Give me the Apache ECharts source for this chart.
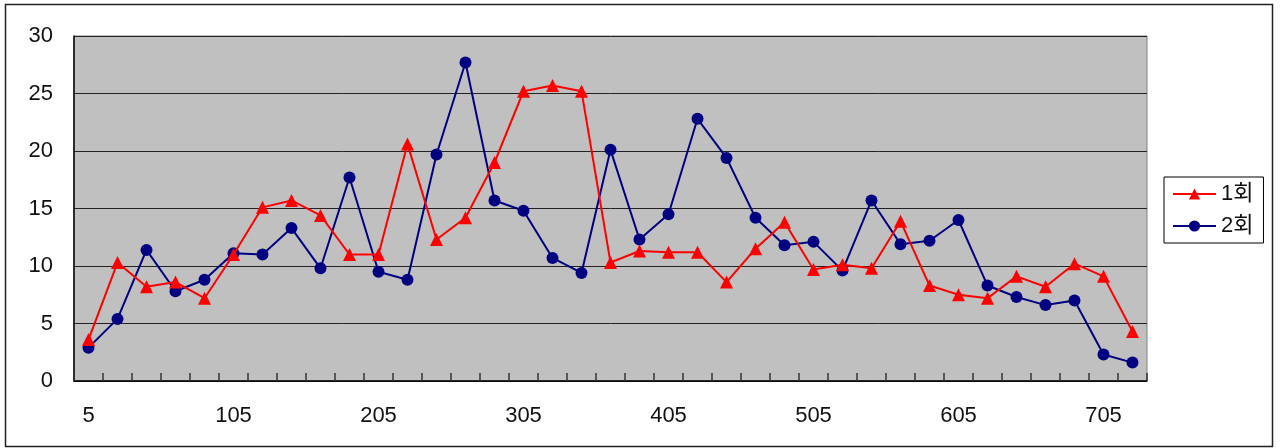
<!DOCTYPE html>
<html>
<head>
<meta charset="utf-8">
<script src="https://cdn.jsdelivr.net/npm/echarts@6/dist/echarts.min.js"></script>
<style>
  html, body { margin: 0; padding: 0; background: #fff; }
  #chart { width: 1283px; height: 448px; }
</style>
</head>
<body>
<div id="chart"></div>
<script>
// Position categories (5, 25, 45, ... 725)
const categories = ['5','25','45','65','85','105','125','145','165','185','205','225','245','265','285','305','325','345','365','385','405','425','445','465','485','505','525','545','565','585','605','625','645','665','685','705','725'];

// 1회 measurements
const round1 = [3.6, 10.3, 8.2, 8.6, 7.2, 11.0, 15.1, 15.7, 14.4, 11.0, 11.0, 20.6, 12.3, 14.2, 19.0, 25.2, 25.7, 25.2, 10.3, 11.3, 11.2, 11.2, 8.6, 11.5, 13.8, 9.7, 10.1, 9.8, 13.9, 8.3, 7.5, 7.2, 9.1, 8.2, 10.2, 9.1, 4.3];

// 2회 measurements
const round2 = [2.9, 5.4, 11.4, 7.8, 8.8, 11.1, 11.0, 13.3, 9.8, 17.7, 9.5, 8.8, 19.7, 27.7, 15.7, 14.8, 10.7, 9.4, 20.1, 12.3, 14.5, 22.8, 19.4, 14.2, 11.8, 12.1, 9.6, 15.7, 11.9, 12.2, 14.0, 8.3, 7.3, 6.6, 7.0, 2.3, 1.6];

const seriesNames = ['1회', '2회'];

const FONT = '"Liberation Sans", "Noto Sans CJK KR", sans-serif';

const chart = echarts.init(document.getElementById('chart'), null, { renderer: 'canvas' });

chart.setOption({
  animation: false,
  backgroundColor: '#ffffff',
  textStyle: { fontFamily: FONT },
  graphic: [{
    type: 'rect',
    shape: { x: 5.5, y: 4.5, width: 1267, height: 442 },
    style: { fill: 'none', stroke: '#222', lineWidth: 1.5 },
    z: 0
  }],
  grid: {
    left: 74, top: 36, right: 136, bottom: 67,
    show: true,
    backgroundColor: '#c0c0c0',
    borderColor: '#808080',
    borderWidth: 1
  },
  legend: {
    orient: 'vertical',
    left: 1164, top: 177,
    padding: [6, 10, 6, 8],
    itemGap: 10,
    itemWidth: 43, itemHeight: 14,
    borderColor: '#000',
    borderWidth: 1,
    backgroundColor: '#fff',
    textStyle: { fontSize: 22, color: '#111', fontFamily: FONT },
    data: seriesNames
  },
  xAxis: {
    type: 'category',
    data: categories,
    boundaryGap: true,
    axisLine: { lineStyle: { color: '#000', width: 1.5 } },
    axisTick: { show: true, inside: true, length: 8, interval: 0, lineStyle: { color: '#333', width: 1.5 } },
    axisLabel: { interval: 4, fontSize: 22, color: '#111', margin: 24, fontFamily: FONT },
    splitLine: { show: false }
  },
  yAxis: {
    type: 'value',
    min: 0, max: 30, interval: 5,
    axisLine: { show: true, lineStyle: { color: '#000', width: 1.5 } },
    axisTick: { show: false },
    axisLabel: { fontSize: 22, color: '#111', margin: 21, fontFamily: FONT },
    splitLine: { show: true, lineStyle: { color: '#222', width: 1 } }
  },
  series: [
    {
      name: seriesNames[0],
      type: 'line',
      data: round1,
      symbol: 'triangle',
      symbolSize: 13,
      itemStyle: { color: '#ff0000' },
      lineStyle: { color: '#ff0000', width: 2 },
      z: 3
    },
    {
      name: seriesNames[1],
      type: 'line',
      data: round2,
      symbol: 'circle',
      symbolSize: 12,
      itemStyle: { color: '#000080' },
      lineStyle: { color: '#000080', width: 2 },
      z: 2
    }
  ]
});
</script>
</body>
</html>
